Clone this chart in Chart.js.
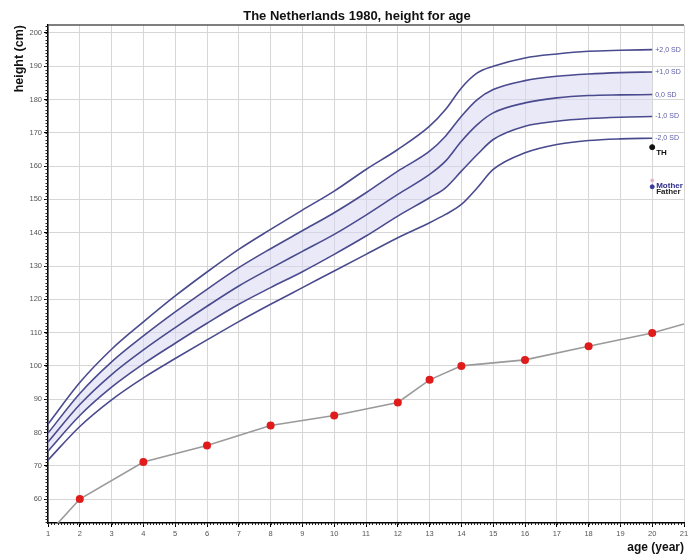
<!DOCTYPE html>
<html>
<head>
<meta charset="utf-8">
<script src="https://cdn.jsdelivr.net/npm/chart.js@4"></script>
<style>
	body { margin: 0; background: #fff; }
	canvas { display: block; }
</style>
</head>
<body>
<canvas id="chart" width="689" height="558"></canvas>
<script>
// Reference curves (Dutch 1980, boys)
const ages = [1, 2, 3, 4, 5, 6, 7, 8, 9, 10, 11, 12, 13, 13.5, 14, 14.5, 15, 16, 17, 18, 19, 20];
const sdPlus2 = [82.5, 95, 105, 113.2, 121, 128.2, 135, 141, 146.8, 152.5, 159, 165, 172, 177, 183.5, 188, 190, 192.5, 193.7, 194.5, 194.8, 195.0];
const sdPlus1 = [79.8, 91.7, 101.2, 109, 116.2, 123, 129.5, 135.2, 140.6, 146, 152, 158.5, 164.5, 169, 175, 180, 183, 185.7, 187, 187.7, 188.1, 188.3];
const sdZero = [77.1, 88.4, 97.4, 104.8, 111.5, 117.9, 124, 129.3, 134.4, 139.5, 145.3, 151.5, 157.5, 161.5, 167.5, 172.5, 176, 179, 180.5, 181.2, 181.4, 181.5];
const sdMinus1 = [74.4, 85.1, 93.6, 100.6, 106.8, 112.8, 118.5, 123.5, 128.3, 133.5, 139, 145, 150.5, 153.5, 158.5, 163.5, 168, 172, 173.5, 174.3, 174.7, 174.9];
const sdMinus2 = [71.7, 81.8, 89.8, 96.4, 102.2, 107.8, 113.3, 118.5, 123.5, 128.5, 133.5, 138.5, 143, 145.5, 148.5, 153.5, 159, 164, 166.5, 167.7, 168.2, 168.4];
const sdLabels = ["+2,0 SD", "+1,0 SD", "0,0 SD", "-1,0 SD", "-2,0 SD"];

// Patient measurements
const patientAges = [1, 2, 4, 6, 8, 10, 12, 13, 14, 16, 18, 20, 21];
const patientHeights = [49.5, 60, 71.1, 76.1, 82.1, 85.1, 89.0, 95.8, 100, 101.8, 105.9, 109.9, 112.6];
const measured = [false, true, true, true, true, true, true, true, true, true, true, true, false];

// Target height and parents, plotted at age 20
const markerAge = 20;
const targetHeight = 165.7;
const fatherHeight = 155.7;
const motherHeight = 153.8;

const xTicks = [1, 2, 3, 4, 5, 6, 7, 8, 9, 10, 11, 12, 13, 14, 15, 16, 17, 18, 19, 20, 21];
const yTicks = [60, 70, 80, 90, 100, 110, 120, 130, 140, 150, 160, 170, 180, 190, 200];

const titleText = "The Netherlands 1980, height for age";
const fontFamily = "'Liberation Sans', Arial, sans-serif";
const lineColor = "#4a4a8e";

const toPoints = (xs, ys) => xs.map((x, i) => ({ x: x, y: ys[i] }));

const refLine = (values, extra) =>
	Object.assign(
		{
			data: toPoints(ages, values),
			borderColor: lineColor,
			borderWidth: 1.6,
			pointRadius: 0,
			cubicInterpolationMode: "monotone",
			fill: false,
		},
		extra || {}
	);

const chartText = {
	id: "chartText",
	beforeDatasetsDraw(chart) {
		const { ctx, chartArea, scales } = chart;
		ctx.save();
		// top frame line
		ctx.strokeStyle = "#555";
		ctx.lineWidth = 1.5;
		ctx.beginPath();
		ctx.moveTo(chartArea.left, chartArea.top);
		ctx.lineTo(chartArea.right, chartArea.top);
		ctx.stroke();
		// minor ticks on both axes
		ctx.strokeStyle = "#222";
		ctx.lineWidth = 1;
		ctx.beginPath();
		for (let v = Math.ceil(scales.y.min); v <= scales.y.max; v++) {
			const py = Math.round(scales.y.getPixelForValue(v)) + 0.5;
			ctx.moveTo(chartArea.left - 2.5, py);
			ctx.lineTo(chartArea.left, py);
		}
		for (let k = 10; k <= 210; k++) {
			const px = Math.round(scales.x.getPixelForValue(k / 10)) + 0.5;
			ctx.moveTo(px, chartArea.bottom);
			ctx.lineTo(px, chartArea.bottom + 2);
		}
		ctx.stroke();
		ctx.restore();
	},
	afterDraw(chart) {
		const { ctx, scales } = chart;
		const x = scales.x;
		const y = scales.y;
		ctx.save();
		// title
		ctx.font = "bold 13px " + fontFamily;
		ctx.fillStyle = "#111";
		ctx.textAlign = "center";
		ctx.textBaseline = "alphabetic";
		ctx.fillText(titleText, 357, 20);

		// SD labels at the end of each curve
		const ends = [sdPlus2, sdPlus1, sdZero, sdMinus1, sdMinus2];
		const lastX = x.getPixelForValue(ages[ages.length - 1]) + 3;
		ctx.font = "7px " + fontFamily;
		ctx.fillStyle = "#5a5aa8";
		ctx.textAlign = "left";
		ctx.textBaseline = "middle";
		ends.forEach((arr, i) => {
			ctx.fillText(sdLabels[i], lastX, y.getPixelForValue(arr[arr.length - 1]));
		});

		// target height / parents
		const mx = x.getPixelForValue(markerAge);
		ctx.font = "bold 8px " + fontFamily;
		ctx.fillStyle = "#111";
		ctx.fillText("TH", mx + 4, y.getPixelForValue(targetHeight) + 6);
		ctx.fillStyle = "#2e2e8a";
		ctx.fillText("Mother", mx + 4, y.getPixelForValue(motherHeight) - 1);
		ctx.fillStyle = "#222";
		ctx.fillText("Father", mx + 4, y.getPixelForValue(motherHeight) + 5);
		ctx.restore();
	},
};

new Chart(document.getElementById("chart"), {
	type: "line",
	data: {
		datasets: [
			refLine(sdPlus2),
			refLine(sdPlus1, { fill: { target: 3 }, backgroundColor: "rgba(215, 215, 242, 0.55)" }),
			refLine(sdZero),
			refLine(sdMinus1),
			refLine(sdMinus2),
			{
				data: toPoints(patientAges, patientHeights),
				borderColor: "#9a9a9a",
				borderWidth: 1.6,
				tension: 0,
				pointRadius: measured.map((m) => (m ? 4 : 0)),
				pointBackgroundColor: "#e01b1b",
				pointBorderColor: "#e01b1b",
				pointBorderWidth: 0,
				fill: false,
			},
			{
				data: [{ x: markerAge, y: targetHeight }],
				showLine: false,
				pointRadius: 2.5,
				pointBackgroundColor: "#111",
				pointBorderColor: "#111",
			},
			{
				data: [
					{ x: markerAge, y: fatherHeight },
					{ x: markerAge, y: motherHeight },
				],
				showLine: false,
				pointRadius: [1.5, 2],
				pointBackgroundColor: ["#e6b3c6", "#3a3a9a"],
				pointBorderColor: ["#e6b3c6", "#3a3a9a"],
			},
		],
	},
	options: {
		responsive: false,
		animation: false,
		layout: { padding: { top: 25, right: 0, left: 0, bottom: 0 } },
		plugins: {
			legend: { display: false },
			tooltip: { enabled: false },
			filler: { drawTime: "beforeDatasetsDraw" },
		},
		scales: {
			x: {
				type: "linear",
				min: 1,
				max: 21,
				afterBuildTicks: (scale) => {
					scale.ticks = xTicks.map((v) => ({ value: v }));
				},
				afterFit: (scale) => {
					scale.height = 35;
					scale.paddingLeft = 0;
					scale.paddingRight = 0;
				},
				ticks: {
					autoSkip: false,
					maxRotation: 0,
					padding: 2,
					color: "#555",
					font: { family: fontFamily, size: 7.5 },
				},
				grid: { color: "#d6d6d6", lineWidth: 1, tickLength: 4, tickColor: "#000" },
				border: { color: "#000", width: 1.5 },
				title: {
					display: true,
					text: "age (year)",
					align: "end",
					color: "#111",
					font: { family: fontFamily, size: 12, weight: "bold" },
					padding: { top: 0, bottom: 3 },
				},
			},
			y: {
				min: 52.8,
				max: 202.4,
				afterBuildTicks: (scale) => {
					scale.ticks = yTicks.map((v) => ({ value: v }));
				},
				afterFit: (scale) => {
					scale.width = 48;
					scale.paddingTop = 0;
					scale.paddingBottom = 0;
				},
				ticks: {
					padding: 2,
					color: "#555",
					font: { family: fontFamily, size: 7.5 },
				},
				grid: { color: "#d6d6d6", lineWidth: 1, tickLength: 4, tickColor: "#000" },
				border: { color: "#000", width: 1.5 },
				title: {
					display: true,
					text: "height (cm)",
					align: "end",
					color: "#111",
					font: { family: fontFamily, size: 12.5, weight: "bold" },
					padding: { top: 12, bottom: 0 },
				},
			},
		},
	},
	plugins: [chartText],
});
</script>
</body>
</html>
